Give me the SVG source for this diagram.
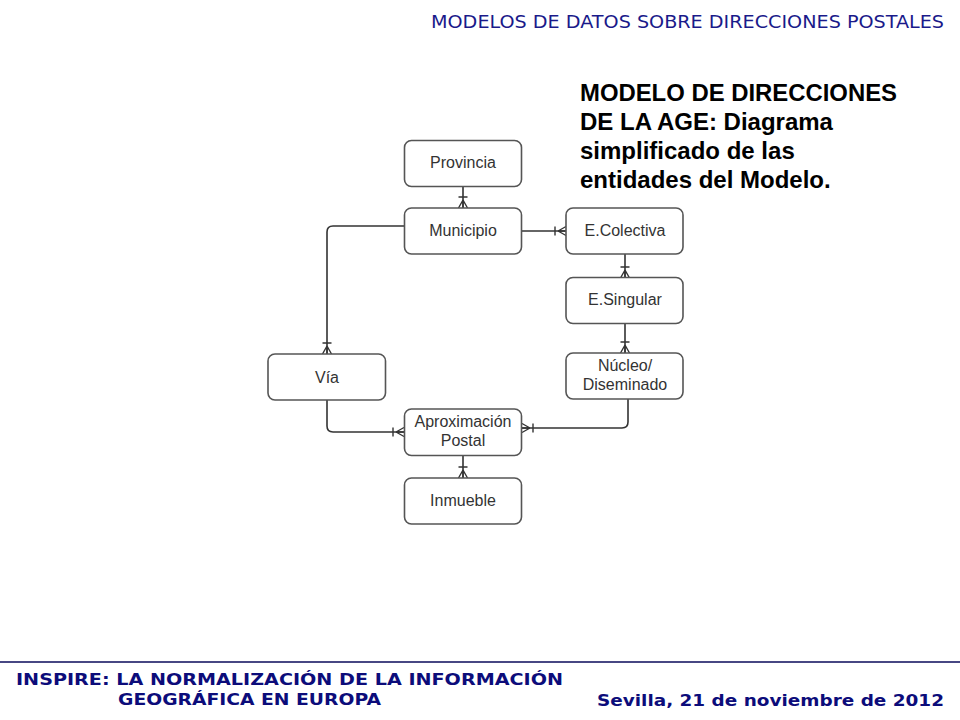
<svg xmlns="http://www.w3.org/2000/svg" width="960" height="720" viewBox="0 0 960 720">
<style>
.box{fill:#fff;stroke:#555;stroke-width:1.6}
.lbl{font-family:"Liberation Sans",Arial,sans-serif;font-size:16px;fill:#333;text-anchor:middle}
.con{fill:none;stroke:#333;stroke-width:1.6;marker-end:url(#crow)}
.hdr{font-family:"DejaVu Sans",Verdana,sans-serif;fill:#1a1a8a}
.ftr{font-family:"DejaVu Sans",Verdana,sans-serif;font-weight:bold;fill:#0c0c7a;font-size:16.5px}
.ttl{font-family:"Liberation Sans",Arial,sans-serif;font-weight:bold;font-size:24px;fill:#000}
</style>
<defs>
<marker id="crow" markerUnits="userSpaceOnUse" viewBox="-16 -6 20 12" markerWidth="20" markerHeight="12" refX="0" refY="0" orient="auto" overflow="visible">
<path d="M-8,0 L0,-4.5 M-8,0 L0,0 M-8,0 L0,4.5 M-11,-4.5 L-11,4.5" fill="none" stroke="#333" stroke-width="1.4"/>
</marker>
</defs>
<rect width="960" height="720" fill="#fff"/>
<text class="hdr" x="944" y="28" font-size="17" text-anchor="end" textLength="513" lengthAdjust="spacingAndGlyphs">MODELOS DE DATOS SOBRE DIRECCIONES POSTALES</text>
<g id="title">
<text class="ttl" x="580" y="101" textLength="317" lengthAdjust="spacingAndGlyphs">MODELO DE DIRECCIONES</text>
<text class="ttl" x="580" y="130">DE LA AGE: Diagrama</text>
<text class="ttl" x="580" y="159">simplificado de las</text>
<text class="ttl" x="580" y="188">entidades del Modelo.</text>
</g>
<g id="connectors">
<path class="con" d="M463,187 V208"/>
<path class="con" d="M522,231 H566"/>
<path class="con" d="M625,254 V278"/>
<path class="con" d="M625,323 V353"/>
<path class="con" d="M404,226 H333 Q327,226 327,232 V354"/>
<path class="con" d="M327,400 V426 Q327,432 333,432 H404"/>
<path class="con" d="M628,399 V422 Q628,428 622,428 H522"/>
<path class="con" d="M463,456 V478"/>
</g>
<g id="provincia"><rect class="box" x="404.5" y="140.5" width="117" height="46" rx="7"/><text class="lbl" x="463" y="168">Provincia</text></g>
<g id="municipio"><rect class="box" x="404.5" y="208" width="117" height="46" rx="7"/><text class="lbl" x="463" y="236">Municipio</text></g>
<g id="ecolectiva"><rect class="box" x="566" y="208" width="117" height="46" rx="7"/><text class="lbl" x="625" y="236">E.Colectiva</text></g>
<g id="esingular"><rect class="box" x="566" y="277.5" width="117" height="46" rx="7"/><text class="lbl" x="625" y="305">E.Singular</text></g>
<g id="nucleo"><rect class="box" x="566" y="353" width="117" height="46" rx="7"/><text class="lbl" x="625" y="371">Núcleo/</text><text class="lbl" x="625" y="389.5">Diseminado</text></g>
<g id="via"><rect class="box" x="268" y="354" width="117.5" height="46" rx="7"/><text class="lbl" x="327" y="383">Vía</text></g>
<g id="aproximacion"><rect class="box" x="404.5" y="409" width="117" height="46.5" rx="7"/><text class="lbl" x="463" y="427">Aproximación</text><text class="lbl" x="463" y="445.5">Postal</text></g>
<g id="inmueble"><rect class="box" x="404.5" y="478" width="117" height="46" rx="7"/><text class="lbl" x="463" y="506">Inmueble</text></g>
<line x1="0" y1="662" x2="960" y2="662" stroke="#0a0a5a" stroke-width="1.5"/>
<text class="ftr" x="16" y="685" textLength="547" lengthAdjust="spacingAndGlyphs">INSPIRE: LA NORMALIZACIÓN DE LA INFORMACIÓN</text>
<text class="ftr" x="118" y="705" textLength="263" lengthAdjust="spacingAndGlyphs">GEOGRÁFICA EN EUROPA</text>
<text class="ftr" x="597" y="706" font-size="17" textLength="347" lengthAdjust="spacingAndGlyphs">Sevilla, 21 de noviembre de 2012</text>
</svg>
